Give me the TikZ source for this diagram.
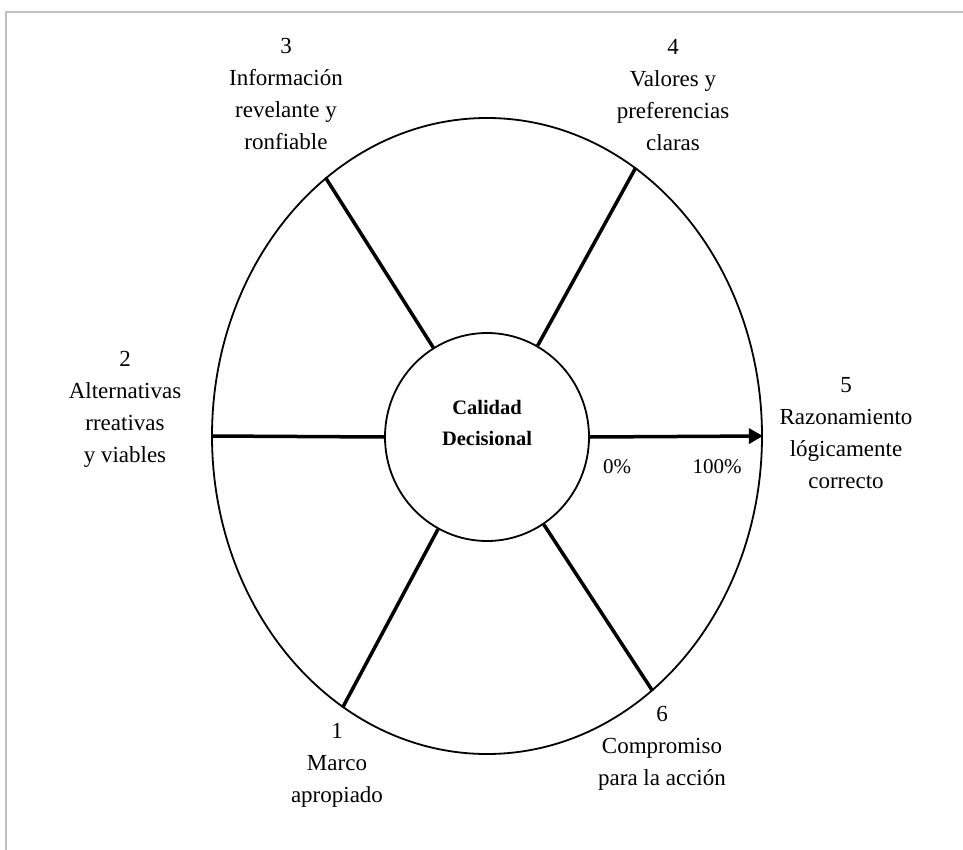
\documentclass[tikz,border=0pt]{standalone}
\usepackage{fontspec}
\setmainfont{Liberation Serif}
\usetikzlibrary{arrows.meta,shapes.geometric}
\begin{document}
\begin{tikzpicture}[x=1pt,y=-1pt,
  lbl/.style={align=center, font=\fontsize{23}{32}\selectfont, inner sep=0pt},
  pct/.style={font=\fontsize{21}{25}\selectfont, inner sep=0pt},
  spoke/.style={line width=3.5pt},
  thinline/.style={line width=1.8pt},
  frameline/.style={draw=black!25, line width=2pt}]
\useasboundingbox (0,0) rectangle (963,850);
\fill[white] (0,0) rectangle (963,850);
% page frame
\draw[frameline] (6,850) -- (6,12) -- (963,12);
% outer wheel and hub
\node[draw, thinline, ellipse, minimum width=550pt, minimum height=636pt, inner sep=0pt] (rim) at (487,436) {};
\node[draw, thinline, ellipse, minimum width=204pt, minimum height=208pt, inner sep=0pt] (core) at (487,437) {};
\node[align=center, inner sep=0pt, font=\bfseries\fontsize{20.5}{31}\selectfont] (coretext) at (487,423) {Calidad\\Decisional};
% spokes
\draw[spoke] (core.121.5) -- (rim.122);
\draw[spoke] (core.61.7) -- (rim.61.7);
\draw[spoke] (rim.180) -- (core.180);
\draw[spoke] (core.242.5) -- (rim.242.5);
\draw[spoke] (core.303) -- (rim.303);
\draw[spoke, -{Triangle[length=14pt,width=15pt]}] (core.0) -- (rim.0);
% labels
\node[lbl] (l3) at (286,94) {3\\Información\\revelante y\\ronfiable};
\node[lbl] (l4) at (673,95) {4\\Valores y\\preferencias\\claras};
\node[lbl] (l2) at (125,409) {2\\Alternativas\\rreativas\\y viables};
\node[lbl] (l5) at (846,433) {5\\Razonamiento\\lógicamente\\correcto};
\node[lbl] (l1) at (337,765) {1\\Marco\\apropiado};
\node[lbl] (l6) at (662,748) {6\\Compromiso\\para la acción};
\node[pct] (p0) at (617,467) {0\%};
\node[pct] (p100) at (717,467) {100\%};
\end{tikzpicture}
\end{document}
